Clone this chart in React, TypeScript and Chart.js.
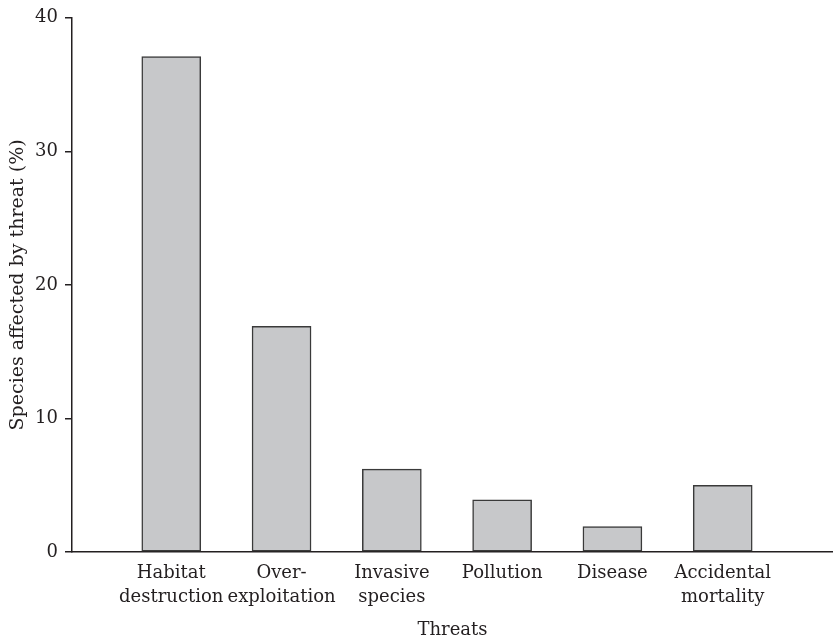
import React, { useEffect, useRef } from "react";
import { Chart, registerables } from "chart.js";

Chart.register(...registerables);

const THREATS: string[][] = [
  ["Habitat", "destruction"],
  ["Over-", "exploitation"],
  ["Invasive", "species"],
  ["Pollution"],
  ["Disease"],
  ["Accidental", "mortality"],
];
const PERCENT: number[] = [37.1, 16.9, 6.2, 3.9, 1.9, 5.0];
const Y_TICKS: number[] = [0, 10, 20, 30, 40];
const Y_TITLE = "Species affected by threat (%)";
const X_TITLE = "Threats";

const INK = "#231f20";
const FONT = "'DejaVu Serif', serif";

export default function App() {
  const ref = useRef<HTMLCanvasElement | null>(null);

  useEffect(() => {
    if (!ref.current) return;
    const chart = new Chart(ref.current, {
      type: "bar",
      data: {
        datasets: [
          {
            data: PERCENT.map((v, i) => ({ x: i + 1, y: v })),
            backgroundColor: "#c7c8ca",
            borderColor: "#3a3a3a",
            borderWidth: 1.5,
            borderSkipped: false,
            barThickness: 59,
          },
        ],
      },
      options: {
        responsive: false,
        animation: false,
        layout: { padding: { top: 15, left: 0, right: 0, bottom: 0 } },
        plugins: {
          legend: { display: false },
          tooltip: { enabled: false },
        },
        scales: {
          x: {
            type: "linear",
            offset: false,
            min: 0.1,
            max: 7,
            afterBuildTicks: (scale: any) => {
              scale.ticks = THREATS.map((_, i) => ({ value: i + 1 }));
            },
            afterFit: (scale: any) => {
              scale.height = 91;
            },
            grid: { display: false, offset: false, drawTicks: false, drawOnChartArea: false },
            border: { display: true, color: INK, width: 1.5 },
            ticks: {
              autoSkip: false,
              maxRotation: 0,
              padding: 9,
              color: INK,
              font: { family: FONT, size: 18, lineHeight: 1.35 },
              callback: (value: any) => THREATS[Math.round(value) - 1] ?? "",
            },
            title: {
              display: true,
              text: X_TITLE,
              color: INK,
              font: { family: FONT, size: 18, lineHeight: 1.2 },
              padding: { top: 0, bottom: 2 },
            },
          },
          y: {
            type: "linear",
            min: 0,
            max: 40,
            afterBuildTicks: (scale: any) => {
              scale.ticks = Y_TICKS.map((v) => ({ value: v }));
            },
            afterFit: (scale: any) => {
              scale.width = 72;
            },
            grid: {
              drawOnChartArea: false,
              drawTicks: true,
              tickLength: 7,
              color: INK,
              lineWidth: 1.5,
            },
            border: { display: true, color: INK, width: 1.5 },
            ticks: {
              padding: 7,
              color: INK,
              font: { family: FONT, size: 18 },
            },
            title: {
              display: true,
              text: Y_TITLE,
              color: INK,
              font: { family: FONT, size: 19, lineHeight: 1.2 },
              padding: { top: 7, bottom: 0 },
            },
          },
        },
      },
    } as any);
    return () => chart.destroy();
  }, []);

  return (
    <div style={{ position: "fixed", left: 0, top: 0, width: 833, height: 643, background: "#fff" }}>
      <canvas ref={ref} width={833} height={643} style={{ display: "block" }} />
    </div>
  );
}
